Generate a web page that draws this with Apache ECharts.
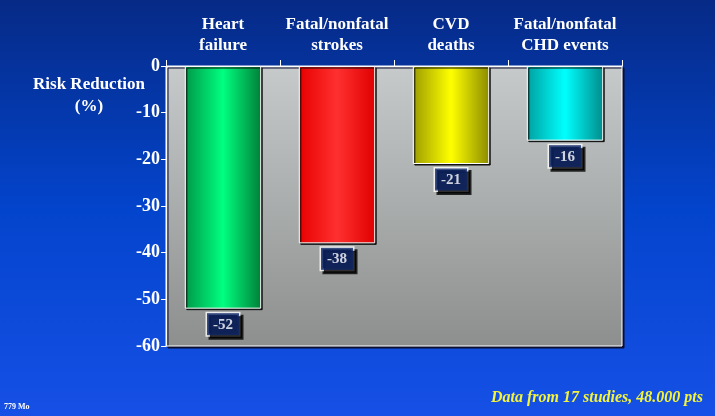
<!DOCTYPE html>
<html>
<head>
<meta charset="utf-8">
<script src="https://cdn.jsdelivr.net/npm/echarts@6/dist/echarts.min.js"></script>
<style>
html,body{margin:0;padding:0;}
#c{width:715px;height:416px;}
</style>
</head>
<body>
<div id="c"></div>
<script>
var categories = ['Heart\nfailure', 'Fatal/nonfatal\nstrokes', 'CVD\ndeaths', 'Fatal/nonfatal\nCHD events'];
var riskReduction = [-52, -38, -21, -16];
var yTicks = { min: -60, max: 0, interval: 10 };
var barColors = [
  ['#009848', '#00ff80', '#008038'],
  ['#e80000', '#ff3030', '#e00000'],
  ['#9c9c00', '#ffff00', '#8c8c00'],
  ['#00a0a0', '#00ffff', '#008c8c']
];

var serif = '"Liberation Serif", "Times New Roman", serif';
function grad(c) {
  return new echarts.graphic.LinearGradient(0, 0, 1, 0, [
    { offset: 0, color: c[0] },
    { offset: 0.5, color: c[1] },
    { offset: 1, color: c[2] }
  ]);
}

var chart = echarts.init(document.getElementById('c'));
chart.setOption({
  backgroundColor: new echarts.graphic.LinearGradient(0, 0, 0, 1, [
    { offset: 0, color: '#062a86' },
    { offset: 0.5, color: '#0344cc' },
    { offset: 1, color: '#1650e6' }
  ]),
  animation: false,
  grid: {
    left: 166, right: 93, top: 66, bottom: 70,
    show: true,
    backgroundColor: new echarts.graphic.LinearGradient(0, 0, 0, 1, [
      { offset: 0, color: '#c6cacb' },
      { offset: 1, color: '#8c8f8d' }
    ]),
    borderColor: '#ffffff',
    borderWidth: 1,
    shadowColor: '#0a0f30',
    shadowBlur: 0,
    shadowOffsetX: 2,
    shadowOffsetY: 2
  },
  xAxis: {
    type: 'category',
    position: 'top',
    data: categories,
    axisLine: { show: true, lineStyle: { color: '#ffffff', width: 1 } },
    axisTick: { show: true, interval: 0, length: 6, lineStyle: { color: '#ffffff' } },
    axisLabel: {
      interval: 0,
      color: '#ffffff',
      fontFamily: serif,
      fontWeight: 'bold',
      fontSize: 17,
      lineHeight: 21,
      margin: 10,
      textShadowColor: 'rgba(0,0,20,0.8)',
      textShadowOffsetX: 1,
      textShadowOffsetY: 1
    },
    splitLine: { show: false }
  },
  yAxis: {
    type: 'value',
    min: yTicks.min,
    max: yTicks.max,
    interval: yTicks.interval,
    axisLine: { show: true, lineStyle: { color: '#ffffff', width: 1 } },
    axisTick: { show: true, length: 5, lineStyle: { color: '#ffffff' } },
    axisLabel: {
      color: '#ffffff',
      fontFamily: serif,
      fontWeight: 'bold',
      fontSize: 18,
      margin: 6,
      textShadowColor: 'rgba(0,0,20,0.8)',
      textShadowOffsetX: 1,
      textShadowOffsetY: 1
    },
    splitLine: { show: false }
  },
  series: [
    {
      type: 'bar',
      barCategoryGap: '33%',
      data: riskReduction.map(function (v, i) {
        return { value: v, itemStyle: { color: grad(barColors[i]) } };
      }),
      itemStyle: {
        borderColor: '#ffffff',
        borderWidth: 1,
        shadowColor: '#101010',
        shadowBlur: 0,
        shadowOffsetX: 1.5,
        shadowOffsetY: 1.5
      }
    },
    {
      type: 'scatter',
      data: riskReduction,
      symbolSize: 1,
      itemStyle: { color: 'rgba(0,0,0,0)' },
      z: 5,
      label: {
        show: true,
        position: 'bottom',
        distance: 4,
        color: '#ffffff',
        fontFamily: serif,
        fontWeight: 'bold',
        fontSize: 15,
        backgroundColor: '#0c2468',
        borderColor: '#ffffff',
        borderWidth: 1.5,
        padding: [4, 6, 3, 6],
        shadowColor: '#000000',
        shadowBlur: 0,
        shadowOffsetX: 3,
        shadowOffsetY: 3
      }
    }
  ],
  graphic: [
    {
      type: 'text',
      x: 89, y: 74,
      style: {
        text: 'Risk Reduction\n(%)',
        align: 'center',
        verticalAlign: 'top',
        fill: '#ffffff',
        font: 'bold 17px ' + serif,
        lineHeight: 22,
        textShadowColor: 'rgba(0,0,20,0.8)',
        textShadowOffsetX: 1,
        textShadowOffsetY: 1
      }
    },
    {
      type: 'text',
      right: 12, top: 390,
      style: {
        text: 'Data from 17 studies, 48.000 pts',
        fill: '#f4f43c',
        font: 'italic bold 16px ' + serif,
        textShadowColor: 'rgba(0,0,20,0.7)',
        textShadowOffsetX: 1,
        textShadowOffsetY: 1
      }
    },
    {
      type: 'text',
      left: 4, top: 403,
      style: {
        text: '779 Mo',
        fill: '#ffffff',
        font: 'bold 8px ' + serif
      }
    }
  ]
});
</script>
</body>
</html>
